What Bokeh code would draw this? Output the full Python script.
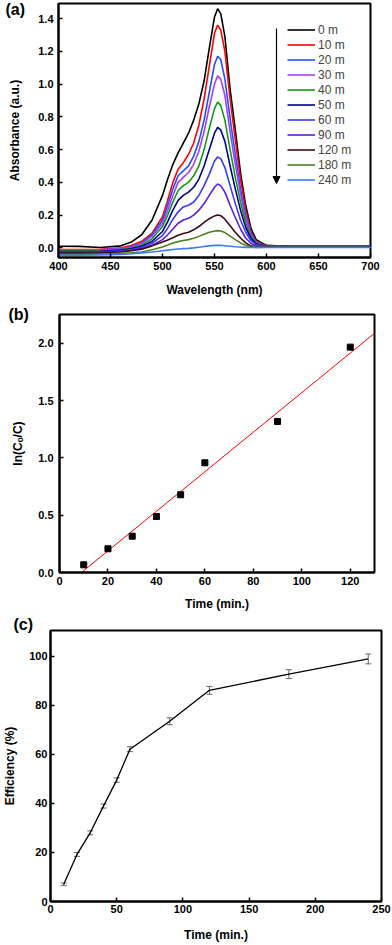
import numpy as np
from bokeh.plotting import figure
from bokeh.layouts import column, row
from bokeh.models import (Range1d, FixedTicker, Legend, LegendItem, Title, Arrow,
                          NormalHead, Whisker, TeeHead, ColumnDataSource, PrintfTickFormatter)
from bokeh.embed import file_html
from bokeh.resources import INLINE

# ---------------- data: panel (a) UV-vis spectra ----------------
wavelength = [400, 420, 440, 460, 470, 480, 490, 500, 505, 510, 515, 520, 525, 530, 535,
              540, 545, 550, 553, 556, 560, 565, 570, 575, 580, 585, 590, 600, 620, 650, 700]
abs_0m = [0.010, 0.009, 0.002, 0.012, 0.035, 0.08, 0.17, 0.32, 0.42, 0.51, 0.58, 0.64, 0.70, 0.78, 0.88,
          1.02, 1.22, 1.41, 1.46, 1.43, 1.29, 0.97, 0.72, 0.46, 0.26, 0.12, 0.05, 0.015, 0.010, 0.010, 0.010]
abs_10m = [-0.010, -0.010, -0.009, 0.000, 0.014, 0.04, 0.09, 0.19, 0.29, 0.40, 0.48, 0.52, 0.57, 0.64, 0.75,
           0.91, 1.11, 1.31, 1.36, 1.33, 1.20, 0.91, 0.66, 0.42, 0.23, 0.10, 0.04, 0.012, 0.008, 0.008, 0.008]
abs_20m = [-0.015, -0.015, -0.014, -0.006, 0.006, 0.03, 0.08, 0.17, 0.26, 0.36, 0.44, 0.47, 0.50, 0.56, 0.65,
           0.78, 0.95, 1.12, 1.17, 1.15, 1.03, 0.79, 0.57, 0.36, 0.20, 0.09, 0.035, 0.010, 0.008, 0.008, 0.008]
abs_30m = [-0.012, -0.012, -0.012, -0.005, 0.005, 0.027, 0.07, 0.15, 0.23, 0.32, 0.40, 0.43, 0.46, 0.51, 0.59,
           0.71, 0.86, 1.00, 1.05, 1.03, 0.93, 0.71, 0.51, 0.33, 0.18, 0.08, 0.032, 0.010, 0.006, 0.006, 0.006]
abs_40m = [-0.020, -0.020, -0.019, -0.011, -0.002, 0.018, 0.055, 0.13, 0.20, 0.28, 0.35, 0.38, 0.40, 0.44, 0.50,
           0.60, 0.73, 0.85, 0.89, 0.87, 0.78, 0.60, 0.43, 0.28, 0.15, 0.07, 0.028, 0.010, 0.006, 0.006, 0.006]
abs_50m = [-0.022, -0.022, -0.021, -0.014, -0.006, 0.010, 0.04, 0.10, 0.16, 0.23, 0.29, 0.32, 0.34, 0.37, 0.42,
           0.50, 0.60, 0.70, 0.735, 0.72, 0.65, 0.50, 0.36, 0.23, 0.125, 0.058, 0.025, 0.010, 0.008, 0.008, 0.008]
abs_60m = [-0.025, -0.025, -0.024, -0.018, -0.010, 0.003, 0.028, 0.075, 0.12, 0.175, 0.22, 0.25, 0.26, 0.28, 0.32,
           0.38, 0.45, 0.53, 0.555, 0.545, 0.49, 0.38, 0.27, 0.17, 0.095, 0.045, 0.02, 0.010, 0.010, 0.010, 0.010]
abs_90m = [-0.028, -0.028, -0.027, -0.021, -0.014, -0.004, 0.015, 0.05, 0.08, 0.115, 0.15, 0.17, 0.18, 0.20, 0.23,
           0.27, 0.32, 0.37, 0.39, 0.38, 0.34, 0.26, 0.185, 0.115, 0.06, 0.028, 0.012, 0.007, 0.007, 0.007, 0.007]
abs_120m = [-0.032, -0.032, -0.031, -0.025, -0.018, -0.008, 0.012, 0.035, 0.048, 0.062, 0.077, 0.088, 0.095, 0.11, 0.13,
            0.155, 0.178, 0.195, 0.20, 0.196, 0.175, 0.135, 0.095, 0.06, 0.03, 0.012, 0.005, 0.005, 0.005, 0.005, 0.005]
abs_180m = [-0.040, -0.040, -0.039, -0.034, -0.030, -0.025, -0.012, 0.005, 0.017, 0.03, 0.038, 0.045, 0.05, 0.058, 0.07,
            0.083, 0.095, 0.103, 0.105, 0.103, 0.093, 0.072, 0.05, 0.03, 0.015, 0.006, 0.003, 0.004, 0.004, 0.004, 0.004]
abs_240m = [-0.045, -0.045, -0.044, -0.040, -0.036, -0.031, -0.025, -0.018, -0.014, -0.010, -0.007, -0.005, -0.003, 0.000, 0.004,
            0.008, 0.012, 0.015, 0.016, 0.015, 0.013, 0.010, 0.007, 0.005, 0.003, 0.002, 0.002, 0.002, 0.002, 0.002, 0.002]
series_labels = ["0 m", "10 m", "20 m", "30 m", "40 m", "50 m", "60 m", "90 m", "120 m", "180 m", "240 m"]
series_colors = ["#000000", "#FF0000", "#1F4FFF", "#A63CFF", "#119911", "#00008B",
                 "#3A3AF0", "#5A1EE0", "#3D0A14", "#4E8020", "#3A7BFF"]
a_xticks = [400, 450, 500, 550, 600, 650, 700]
a_yticks = [0.0, 0.2, 0.4, 0.6, 0.8, 1.0, 1.2, 1.4]

# ---------------- data: panel (b) kinetics ----------------
kin_time = [10, 20, 30, 40, 50, 60, 90, 120]
kin_lnc = [0.067, 0.207, 0.317, 0.489, 0.679, 0.958, 1.319, 1.968]
b_xticks = [0, 20, 40, 60, 80, 100, 120]
b_yticks = [0.0, 0.5, 1.0, 1.5, 2.0]

# ---------------- data: panel (c) efficiency ----------------
eff_time = [10, 20, 30, 40, 50, 60, 90, 120, 180, 240]
eff_val = [7.0, 19.2, 28.0, 38.9, 49.5, 62.1, 73.5, 86.1, 92.7, 98.9]
eff_err = [0.5, 0.8, 0.8, 0.8, 0.9, 1.0, 1.4, 1.6, 1.8, 2.0]
c_xticks = [0, 50, 100, 150, 200, 250]
c_yticks = [0, 20, 40, 60, 80, 100]

FONT = "Liberation Sans"


def style(p, xlabel, ylabel, xticks, yticks, xstand, ystand):
    p.xgrid.visible = False
    p.ygrid.visible = False
    p.outline_line_color = "black"
    p.outline_line_width = 2
    p.background_fill_color = "white"
    p.border_fill_color = "white"
    p.xaxis.axis_label = xlabel
    p.yaxis.axis_label = ylabel
    p.xaxis.ticker = FixedTicker(ticks=xticks)
    p.yaxis.ticker = FixedTicker(ticks=yticks)
    for ax, (ls, als) in ((p.xaxis[0], xstand), (p.yaxis[0], ystand)):
        ax.major_tick_in = 4
        ax.major_tick_out = 0
        ax.minor_tick_in = 0
        ax.minor_tick_out = 0
        ax.axis_line_width = 2
        ax.major_tick_line_width = 1.5
        ax.major_label_text_font = FONT
        ax.major_label_text_font_style = "bold"
        ax.major_label_text_font_size = "11px"
        ax.major_label_text_color = "black"
        ax.axis_label_text_font = FONT
        ax.axis_label_text_font_style = "bold"
        ax.axis_label_text_font_size = "12px"
        ax.axis_label_text_color = "black"
        ax.major_label_standoff = ls
        ax.axis_label_standoff = als


def panel_label(p, text, offset, standoff):
    p.add_layout(Title(text=text, align="left", offset=offset, standoff=standoff,
                       text_font=FONT, text_font_style="bold", text_font_size="16px",
                       text_color="black"), "above")


# ---------------- figure (a) ----------------
pa = figure(width=392, height=305, output_backend="svg", toolbar_location=None,
            x_range=Range1d(400, 700), y_range=Range1d(-0.059, 1.492),
            min_border_left=58, min_border_right=22, min_border_top=3, min_border_bottom=48)
style(pa, "Wavelength (nm)", "Absorbance (a.u.)", a_xticks, a_yticks, (4, 10), (5, 13))
pa.yaxis.formatter = PrintfTickFormatter(format="%.1f")
spectra = [abs_0m, abs_10m, abs_20m, abs_30m, abs_40m, abs_50m, abs_60m,
           abs_90m, abs_120m, abs_180m, abs_240m]
items = []
for lab, col, ys in zip(series_labels, series_colors, spectra):
    r = pa.line(wavelength, ys, line_color=col, line_width=1.6)
    items.append(LegendItem(label=lab, renderers=[r]))
leg = Legend(items=items, location=(229, 70), border_line_color=None,
             background_fill_alpha=0, padding=0, margin=0, spacing=0,
             glyph_width=28, glyph_height=15, label_height=15, label_standoff=3,
             label_text_font=FONT, label_text_font_size="12px")
pa.add_layout(leg)
pa.add_layout(Arrow(end=NormalHead(size=7, fill_color="black", line_color="black"),
                    x_start=218, y_start=229, x_end=218, y_end=74,
                    start_units="screen", end_units="screen",
                    line_color="black", line_width=1.2))
panel_label(pa, "(a)", -53, -28)

# ---------------- figure (b) ----------------
pb = figure(width=392, height=310, output_backend="svg", toolbar_location=None,
            x_range=Range1d(0, 130), y_range=Range1d(0, 2.253),
            min_border_left=59, min_border_right=18, min_border_top=9, min_border_bottom=43)
style(pb, "Time (min.)", "ln(C\u2092/C)", b_xticks, b_yticks, (4, 9), (6, 10))
pb.yaxis.formatter = PrintfTickFormatter(format="%.1f")
slope, intercept = np.polyfit(kin_time, kin_lnc, 1)
fit_x = [-intercept / slope, pb.x_range.end]
fit_y = [slope * v + intercept for v in fit_x]
pb.line(fit_x, fit_y, line_color="#FF0000", line_width=1)
pb.scatter(kin_time, kin_lnc, marker="square", size=6, fill_color="black", line_color="black")
panel_label(pb, "(b)", -51, -16)

# ---------------- figure (c) ----------------
pc = figure(width=392, height=329, output_backend="svg", toolbar_location=None,
            x_range=Range1d(0, 250), y_range=Range1d(0, 110.5),
            min_border_left=45, min_border_right=11, min_border_top=13, min_border_bottom=41)
style(pc, "Time (min.)", "Efficiency (%)", c_xticks, c_yticks, (3, 12), (3, 9))
src = ColumnDataSource(dict(t=eff_time, e=eff_val,
                            lo=[v - s for v, s in zip(eff_val, eff_err)],
                            hi=[v + s for v, s in zip(eff_val, eff_err)]))
pc.line("t", "e", source=src, line_color="black", line_width=1.3)
pc.add_layout(Whisker(base="t", upper="hi", lower="lo", source=src,
                      line_color="#666666", line_width=1,
                      upper_head=TeeHead(size=6, line_color="#666666", line_width=1),
                      lower_head=TeeHead(size=6, line_color="#666666", line_width=1)))
panel_label(pc, "(c)", -37, -4)

layout = column(row(pa), row(pb), row(pc))
open("out.html", "w").write(file_html(layout, INLINE))
